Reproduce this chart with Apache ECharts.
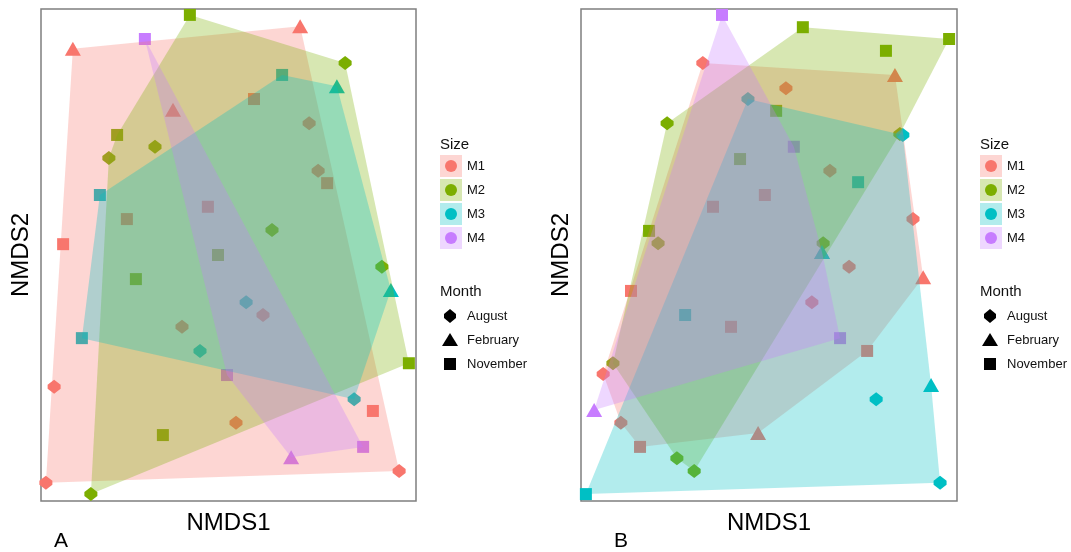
<!DOCTYPE html>
<html>
<head>
<meta charset="utf-8">
<script src="https://cdn.jsdelivr.net/npm/echarts@6/dist/echarts.min.js"></script>
<style>
  html, body { margin: 0; background: #fff; }
  #chart { width: 1071px; height: 552px; }
</style>
</head>
<body>
<div id="chart"></div>
<script>
const sizes = ['M1', 'M2', 'M3', 'M4'];
const months = ['August', 'February', 'November'];
const sizeColors = { M1: '#F8766D', M2: '#7CAE00', M3: '#00BFC4', M4: '#C77CFF' };

// panel A: [NMDS1, NMDS2, month]
const A_M1 = [
  [8.5, 91.9, 'February'], [69.1, 96.5, 'February'], [35.2, 79.5, 'February'],
  [5.9, 52.2, 'November'], [44.5, 59.8, 'November'], [22.9, 57.3, 'November'],
  [56.8, 81.7, 'November'], [76.3, 64.6, 'November'], [88.5, 18.3, 'November'],
  [71.5, 76.8, 'August'], [73.9, 67.1, 'August'], [37.6, 35.4, 'August'],
  [59.2, 37.8, 'August'], [52.0, 15.9, 'August'], [3.5, 23.2, 'August'],
  [1.3, 3.7, 'August'], [95.5, 6.1, 'August']
];
const A_M2 = [
  [39.7, 98.8, 'November'], [20.3, 74.4, 'November'], [47.2, 50.0, 'November'],
  [25.3, 45.1, 'November'], [32.5, 13.4, 'November'], [98.1, 28.0, 'November'],
  [30.4, 72.0, 'August'], [18.1, 69.7, 'August'], [81.1, 89.0, 'August'],
  [61.6, 55.1, 'August'], [90.9, 47.6, 'August'], [13.3, 1.4, 'August']
];
const A_M3 = [
  [15.7, 62.2, 'November'], [64.3, 86.6, 'November'], [10.9, 33.1, 'November'],
  [78.9, 84.3, 'February'], [93.3, 42.9, 'February'],
  [42.4, 30.5, 'August'], [54.7, 40.4, 'August'], [83.5, 20.7, 'August']
];
const A_M4 = [
  [27.7, 93.9, 'November'], [49.6, 25.6, 'November'], [85.9, 11.0, 'November'],
  [66.7, 8.9, 'February']
];

// panel B
const B_M1 = [
  [32.4, 89.0, 'August'], [83.5, 86.6, 'February'], [54.5, 83.9, 'August'],
  [88.3, 57.3, 'August'], [91.0, 45.5, 'February'], [76.1, 30.5, 'November'],
  [47.1, 13.8, 'February'], [15.7, 11.0, 'November'], [10.6, 15.9, 'August'],
  [5.9, 25.8, 'August'], [13.3, 42.7, 'November'], [35.1, 59.8, 'November'],
  [48.9, 62.2, 'November'], [39.9, 35.4, 'November'], [71.3, 47.6, 'August'],
  [61.4, 40.4, 'August'], [66.2, 67.1, 'August']
];
const B_M2 = [
  [59.0, 96.3, 'November'], [97.9, 93.9, 'November'], [81.1, 91.5, 'November'],
  [22.9, 76.8, 'August'], [51.9, 79.3, 'November'], [42.3, 69.5, 'November'],
  [18.1, 54.9, 'November'], [20.5, 52.4, 'August'], [8.5, 28.0, 'August'],
  [25.5, 8.7, 'August'], [30.1, 6.1, 'August'], [64.4, 52.4, 'August'],
  [84.8, 74.6, 'August']
];
const B_M3 = [
  [44.4, 81.7, 'August'], [85.6, 74.4, 'August'], [73.7, 64.8, 'November'],
  [64.1, 50.6, 'February'], [27.7, 37.8, 'November'], [93.1, 23.6, 'February'],
  [78.5, 20.7, 'August'], [95.5, 3.7, 'August'], [1.3, 1.4, 'November']
];
const B_M4 = [
  [37.5, 98.8, 'November'], [56.6, 72.0, 'November'], [64.1, 50.6, 'February'],
  [68.9, 33.1, 'November'], [3.5, 18.5, 'February']
];

const panels = [
  { label: 'A', groups: { M1: A_M1, M2: A_M2, M3: A_M3, M4: A_M4 } },
  { label: 'B', groups: { M1: B_M1, M2: B_M2, M3: B_M3, M4: B_M4 } }
];

const diamondPath = 'path://M0,-7 L6,-2 L6,2 L0,7 L-6,2 L-6,-2 Z';
const monthSymbol = { August: diamondPath, February: 'triangle', November: 'rect' };
const monthSize = { August: [13, 14], February: [16, 14], November: [12, 12] };

function convexHull(pts) {
  const p = pts.map(d => [d[0], d[1]]).sort((a, b) => a[0] - b[0] || a[1] - b[1]);
  const cross = (o, a, b) => (a[0] - o[0]) * (b[1] - o[1]) - (a[1] - o[1]) * (b[0] - o[0]);
  const lower = [];
  for (const q of p) {
    while (lower.length >= 2 && cross(lower[lower.length - 2], lower[lower.length - 1], q) <= 0) lower.pop();
    lower.push(q);
  }
  const upper = [];
  for (let i = p.length - 1; i >= 0; i--) {
    const q = p[i];
    while (upper.length >= 2 && cross(upper[upper.length - 2], upper[upper.length - 1], q) <= 0) upper.pop();
    upper.push(q);
  }
  upper.pop();
  lower.pop();
  return lower.concat(upper);
}

const chart = echarts.init(document.getElementById('chart'), null, { renderer: 'canvas' });

const gridW = [375, 376];
const grids = panels.map((p, i) => ({
  left: 41 + 540 * i, top: 9, width: gridW[i], height: 492,
  show: true, borderColor: '#7f7f7f', borderWidth: 1.5, backgroundColor: '#fff'
}));
const axisName = { fontSize: 24, color: '#000', fontFamily: 'Liberation Sans, Arial, sans-serif' };
const xAxes = panels.map((p, i) => ({
  type: 'value', gridIndex: i, min: 0, max: 100,
  name: 'NMDS1', nameLocation: 'middle', nameGap: 10, nameTextStyle: axisName,
  axisLine: { show: false }, axisTick: { show: false }, axisLabel: { show: false }, splitLine: { show: false }
}));
const yAxes = panels.map((p, i) => ({
  type: 'value', gridIndex: i, min: 0, max: 100,
  name: 'NMDS2', nameLocation: 'middle', nameGap: 8, nameTextStyle: axisName,
  axisLine: { show: false }, axisTick: { show: false }, axisLabel: { show: false }, splitLine: { show: false }
}));

const series = [];
panels.forEach((p, i) => {
  // points first, hulls drawn over them
  ['M4', 'M1', 'M2', 'M3'].forEach(s => {
    series.push({
      type: 'scatter', name: s, xAxisIndex: i, yAxisIndex: i, z: 2, silent: true,
      data: p.groups[s],
      symbol: v => monthSymbol[v[2]],
      symbolSize: v => monthSize[v[2]],
      itemStyle: { color: sizeColors[s], opacity: 1 }
    });
  });
  sizes.forEach(s => {
    const h = convexHull(p.groups[s]);
    series.push({
      type: 'custom', name: s + ' hull', xAxisIndex: i, yAxisIndex: i, z: 3, silent: true,
      data: h,
      renderItem: (params, api) => {
        if (params.dataIndex !== 0) return;
        return {
          type: 'polygon',
          shape: { points: h.map(v => api.coord(v)) },
          style: { fill: sizeColors[s], opacity: 0.3 }
        };
      }
    });
  });
});

const font = 'Liberation Sans, Arial, sans-serif';
const graphic = [];
panels.forEach((p, i) => {
  const lx = 440 + 540 * i;
  graphic.push({ type: 'text', x: lx, y: 145, style: { text: 'Size', font: '15px ' + font, fill: '#111', textVerticalAlign: 'middle' } });
  sizes.forEach((s, k) => {
    const cy = 166 + 24 * k;
    graphic.push({ type: 'rect', shape: { x: lx, y: cy - 11, width: 22, height: 22 }, style: { fill: sizeColors[s], opacity: 0.3 } });
    graphic.push({ type: 'circle', shape: { cx: lx + 11, cy: cy, r: 6 }, style: { fill: sizeColors[s] } });
    graphic.push({ type: 'text', x: lx + 27, y: cy, style: { text: s, font: '13px ' + font, fill: '#111', textVerticalAlign: 'middle' } });
  });
  graphic.push({ type: 'text', x: lx, y: 292, style: { text: 'Month', font: '15px ' + font, fill: '#111', textVerticalAlign: 'middle' } });
  months.forEach((m, k) => {
    const cx = lx + 10, cy = 316 + 24 * k;
    let shape;
    if (m === 'August') shape = { type: 'polygon', shape: { points: [[cx, cy - 7], [cx + 6, cy - 2], [cx + 6, cy + 2], [cx, cy + 7], [cx - 6, cy + 2], [cx - 6, cy - 2]] } };
    else if (m === 'February') shape = { type: 'polygon', shape: { points: [[cx, cy - 7], [cx + 8, cy + 6], [cx - 8, cy + 6]] } };
    else shape = { type: 'rect', shape: { x: cx - 6, y: cy - 6, width: 12, height: 12 } };
    shape.style = { fill: '#000' };
    graphic.push(shape);
    graphic.push({ type: 'text', x: lx + 27, y: cy, style: { text: m, font: '13px ' + font, fill: '#111', textVerticalAlign: 'middle' } });
  });
  graphic.push({ type: 'text', x: [61, 621][i], y: 541, style: { text: p.label, font: '21px ' + font, fill: '#000', textAlign: 'center', textVerticalAlign: 'middle' } });
});

chart.setOption({
  animation: false,
  backgroundColor: '#fff',
  grid: grids,
  xAxis: xAxes,
  yAxis: yAxes,
  series: series,
  graphic: graphic
});
</script>
</body>
</html>
